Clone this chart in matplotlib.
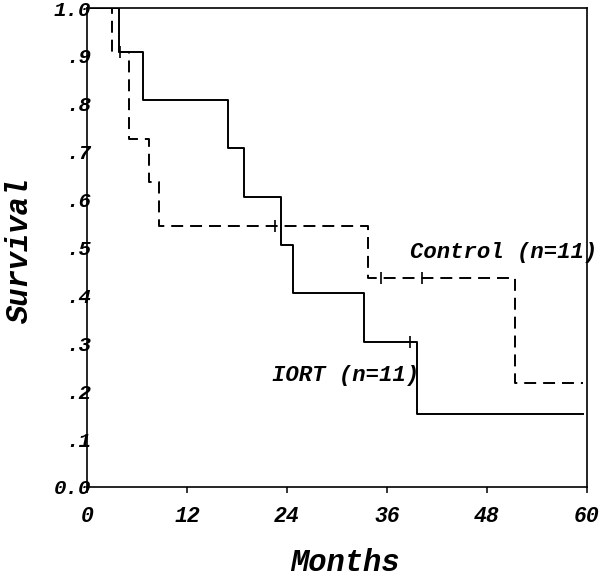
import matplotlib
matplotlib.use("Agg")
import matplotlib.pyplot as plt

# Kaplan-Meier step data (months, survival)
control_times = [0, 3.0, 5.0, 7.4, 8.7, 33.7, 51.4, 59.6]
control_surv = [1.0, 0.909, 0.727, 0.636, 0.545, 0.436, 0.218, 0.218]
control_censor_t = [22.6, 35.3, 40.2]
control_censor_s = [0.545, 0.436, 0.436]

iort_times = [0, 3.9, 6.7, 16.9, 18.8, 23.3, 24.7, 33.3, 39.6, 59.6]
iort_surv = [1.0, 0.909, 0.808, 0.707, 0.606, 0.505, 0.404, 0.303, 0.152, 0.152]
iort_censor_t = [4.0, 38.8]
iort_censor_s = [0.909, 0.303]

x_ticks = [0, 12, 24, 36, 48, 60]
x_tick_labels = ["0", "12", "24", "36", "48", "60"]
y_ticks = [0.0, 0.1, 0.2, 0.3, 0.4, 0.5, 0.6, 0.7, 0.8, 0.9, 1.0]
y_tick_labels = ["0.0", ".1", ".2", ".3", ".4", ".5", ".6", ".7", ".8", ".9", "1.0"]

plt.rcParams['lines.scale_dashes'] = False
FONT = "Liberation Mono"
fd = dict(family=FONT, weight="bold", style="italic")

fig = plt.figure(figsize=(6.0, 5.79), dpi=100)
ax = fig.add_axes([0.145, 0.159, 0.833, 0.827])

lw = 1.4
ax.step(control_times, control_surv, where="post", color="black", lw=lw,
        linestyle=(0, (8.6, 5.0)))
ax.plot(control_censor_t, control_censor_s, linestyle="none", marker="|",
        color="black", markersize=8, markeredgewidth=1.2)
ax.step(iort_times, iort_surv, where="post", color="black", lw=lw)
ax.plot(iort_censor_t, iort_censor_s, linestyle="none", marker="|",
        color="black", markersize=8, markeredgewidth=1.2)

ax.set_xlim(0, 60)
ax.set_ylim(0, 1.0)
ax.set_xticks(x_ticks)
ax.set_xticklabels(x_tick_labels, fontsize=15.5, **fd)
ax.set_yticks(y_ticks)
ax.set_yticklabels(y_tick_labels, fontsize=15, **fd)
ax.tick_params(axis="x", direction="out", length=4.5, width=1.1, pad=9)
ax.tick_params(axis="y", length=0, pad=-3)
for s in ax.spines.values():
    s.set_linewidth(1.2)

ax.text(38.8, 0.489, "Control (n=11)", fontsize=16, va="center", ha="left",
        clip_on=False, **fd)
ax.text(22.2, 0.232, "IORT (n=11)", fontsize=16, va="center", ha="left", **fd)

fig.text(345 / 600, 1 - 563 / 579, "Months", fontsize=22, ha="center",
         va="center", **fd)
fig.text(20 / 600, 1 - 250 / 579, "Survival", fontsize=22, ha="center",
         va="center", rotation=90, **fd)

fig.savefig("out.png", dpi=100)
